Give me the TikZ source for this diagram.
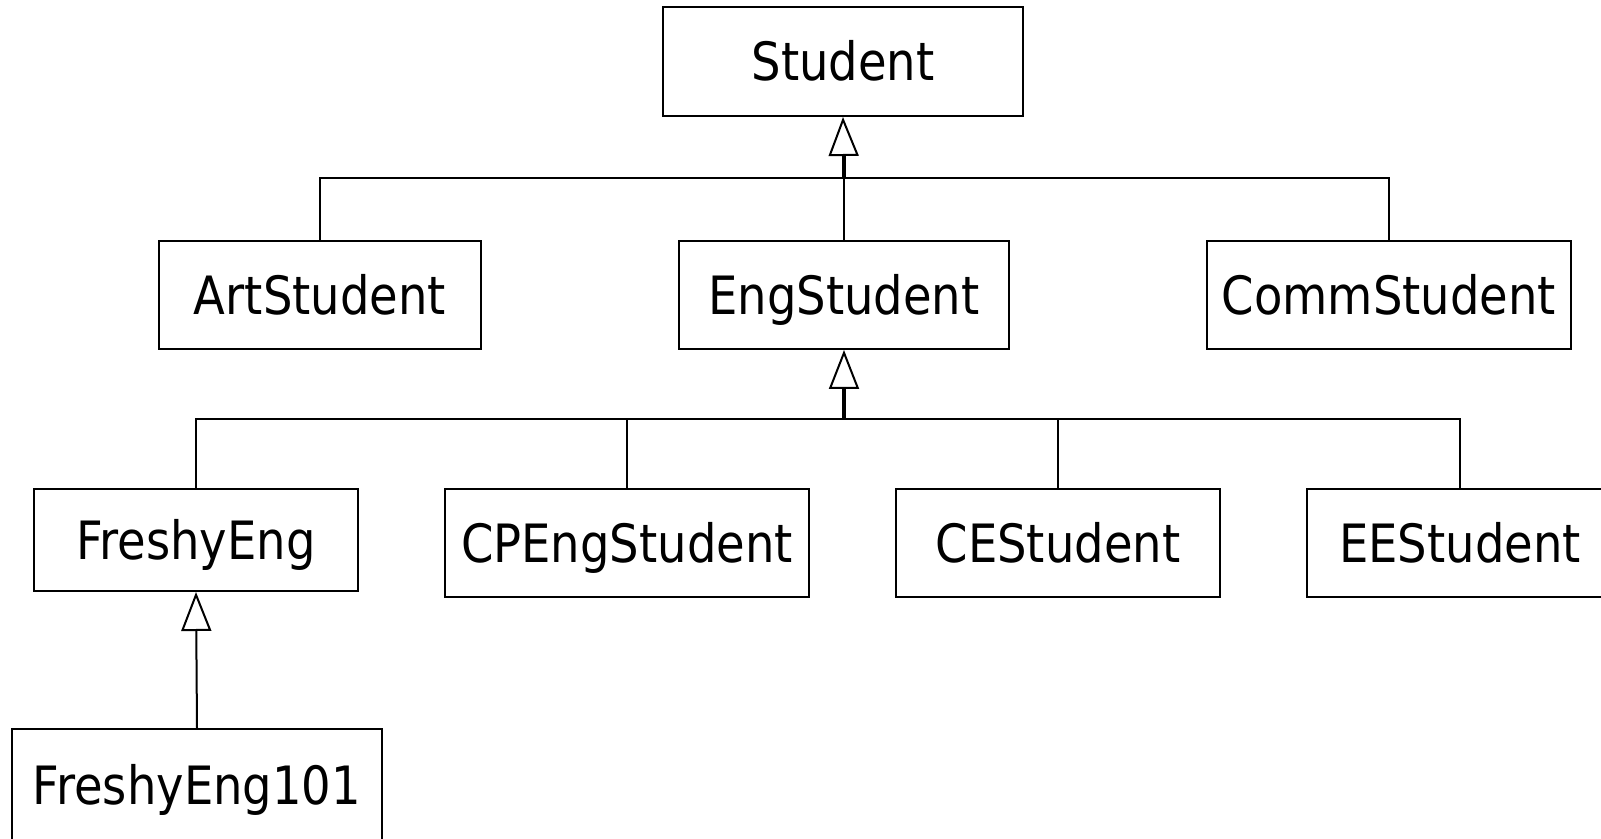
\documentclass[tikz,border=0pt]{standalone}
\usepackage{fontspec}
\setmainfont{DejaVu Sans}[FakeStretch=0.88]
\usetikzlibrary{arrows.meta}
\begin{document}
\begin{tikzpicture}[x=0.5pt, y=-0.5pt]
\tikzset{ cls/.style={draw, line width=1pt, inner sep=0pt, text height=19.2pt, text depth=0pt,
                      font=\fontsize{26.4}{31}\selectfont},
          isa/.style={-{Triangle[open, length=19.5pt, width=15pt]}, line width=1pt} }

\useasboundingbox (0,0) rectangle (1601,839);

%\draw [lightgray, dashed](0,0) grid[step=100] (1601,839);

\node [cls, minimum width=180pt, minimum height=54.5pt] (student) at (843,61.5) {Student};

\node [cls, minimum width=161pt, minimum height=54pt] (art)  at (320,295)  {ArtStudent};
\node [cls, minimum width=165pt, minimum height=54pt] (eng)  at (844,295)  {EngStudent};
\node [cls, minimum width=182pt, minimum height=54pt] (comm) at (1389,295) {CommStudent};

\node [cls, minimum width=162pt, minimum height=51pt] (freshy) at (196,540)  {FreshyEng};
\node [cls, minimum width=182pt, minimum height=54pt] (cpeng)  at (627,543)  {CPEngStudent};
\node [cls, minimum width=162pt, minimum height=54pt] (ce)     at (1058,543) {CEStudent};
\node [cls, minimum width=153pt, minimum height=54pt] (ee)     at (1460,543) {EEStudent};

\node [cls, minimum width=185pt, minimum height=56pt] (freshy101) at (197,785) {FreshyEng101};

\coordinate (busA) at (844,178);
\coordinate (busB) at (844,419);

\draw [line width=1pt] (art.north)  |- (busA);
\draw [line width=1pt] (comm.north) |- (busA);
\draw [line width=1pt] (eng.north)  -- (busA);
\draw [isa] (busA) -- (student.south);
\draw [line width=1.6pt] (busA) -- ++(0,-23);

\draw [line width=1pt] (freshy.north) |- (busB);
\draw [line width=1pt] (cpeng.north)  |- (busB);
\draw [line width=1pt] (ce.north)     |- (busB);
\draw [line width=1pt] (ee.north)     |- (busB);
\draw [isa] (busB) -- (eng.south);
\draw [line width=1.6pt] (busB) -- ++(0,-31);

\draw [isa] (freshy101.north) -- (freshy.south);

\end{tikzpicture}
\end{document}
